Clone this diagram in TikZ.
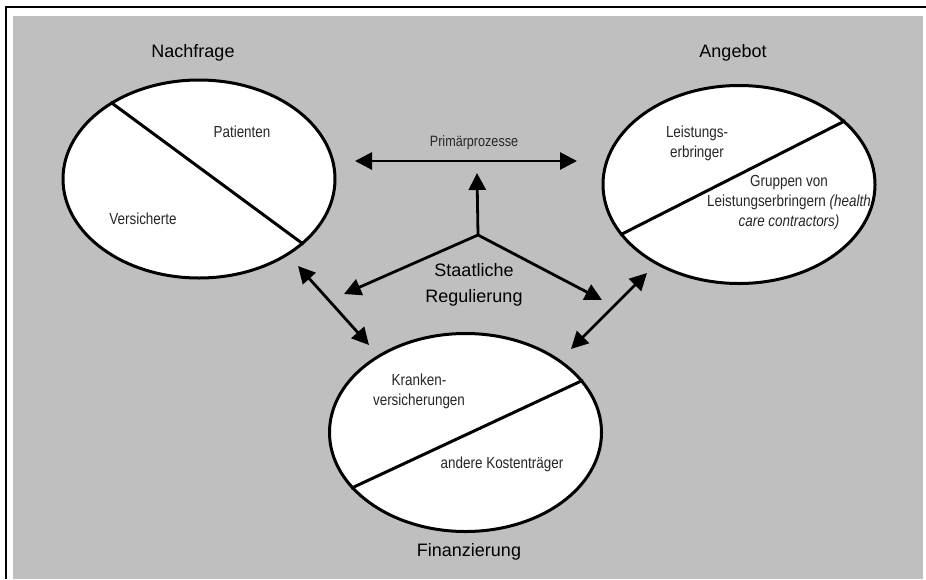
\documentclass[tikz,border=0pt]{standalone}
\usepackage{fontspec}
\setmainfont{Liberation Sans}
\newfontfamily\narrowsans[FakeStretch=0.84]{Liberation Sans}
\usetikzlibrary{arrows.meta,shapes.geometric}

\tikzset{
  sector/.style={ellipse, draw=black, line width=3pt, fill=white,
    minimum width=272pt, minimum height=198pt, inner sep=0pt},
  divider/.style={line width=3pt},
  heading/.style={font=\fontsize{18}{26}\selectfont, align=center},
  entry/.style={font=\narrowsans\fontsize{16}{20}\selectfont, align=center, text=black!85},
  link/.style={line width=2.8pt, -{Triangle[length=17pt,width=17pt]}},
  twoway/.style={line width=2.8pt, {Triangle[length=17pt,width=17pt]}-{Triangle[length=17pt,width=17pt]}}
}

\begin{document}
\begin{tikzpicture}[x=1pt,y=-1pt]
		%%%%% START %%%%%
		\useasboundingbox (0,0) rectangle (926,579);
		
		\fill[white] (0,0) rectangle (926,579);
		\draw[line width=1.5pt] (926,7) -- (6,7) -- (6,579);
		\fill[black!25] (13,16) rectangle (923,579);
		
		% the three sectors
		\node[sector] (nach) at (199,179) {};
		\node[sector] (ange) at (739,184.5) {};
		\node[sector] (fina) at (465.5,432.5) {};
		
		\draw[divider] (nach.139.5) -- (nach.-32);
		\draw[divider] (ange.203) -- (ange.31.5);
		\draw[divider] (fina.206.7) -- (fina.24);
		
		\node[heading] (nachT) at (193,53) {Nachfrage};
		\node[heading] (angeT) at (733,53) {Angebot};
		\node[heading] (finaT) at (469,552) {Finanzierung};
		
		\node[entry] (pat) at (242,132) {Patienten};
		\node[entry] (vers) at (143,219) {Versicherte};
		\node[entry] (leist) at (697,143) {Leistungs-\\erbringer};
		\node[entry] (grup) at (789,203) {Gruppen von\\Leistungserbringern \textit{(health}\\\textit{care contractors)}};
		\node[entry] (kran) at (419,391) {Kranken-\\versicherungen};
		\node[entry] (kost) at (502,464) {andere Kostentr\"ager};
		
		% regulation in the middle
		\node[heading] (staat) at (474,285) {Staatliche\\Regulierung};
		\node[entry, font=\narrowsans\fontsize{15}{18}\selectfont] (prim) at (474,143) {Prim\"arprozesse};
		
		\coordinate (hub) at (478,235);
		\coordinate (hubN) at (477,173);
		\coordinate (hubW) at (344,294);
		\coordinate (hubE) at (602,300);
		\coordinate (primW) at (355,161);
		\coordinate (primE) at (577,161);
		\coordinate (nfA) at (298,266);
		\coordinate (nfB) at (369,345);
		\coordinate (agA) at (647,273);
		\coordinate (agB) at (571,349);
		
		\draw[twoway] (primW) -- (primE);
		\draw[link] (hub) -- (hubN);
		\draw[link] (hub) -- (hubW);
		\draw[link] (hub) -- (hubE);
		\draw[twoway] (nfA) -- (nfB);
		\draw[twoway] (agA) -- (agB);
		
		%%%%% END %%%%%
\end{tikzpicture}
\end{document}
